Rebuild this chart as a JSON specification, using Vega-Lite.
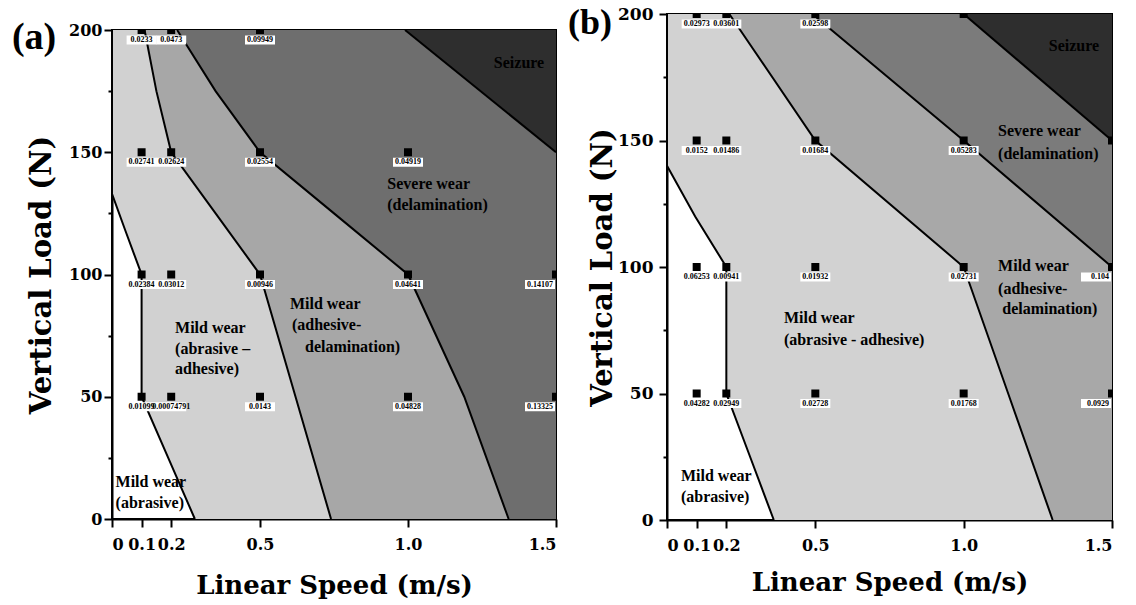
{
  "$schema": "https://vega.github.io/schema/vega-lite/v6.json",
  "padding": {"left": 10, "top": 4, "right": 0, "bottom": 0},
  "background": "white",
  "spacing": 5,
  "config": {
    "view": {"stroke": "black", "strokeWidth": 2},
    "axis": {
      "grid": false, "domainColor": "black", "domainWidth": 2,
      "tickColor": "black", "tickWidth": 2, "tickSize": 8,
      "labelFont": "DejaVu Serif", "labelFontWeight": "bold", "labelFontSize": 16, "labelColor": "black",
      "titleFont": "DejaVu Serif", "titleFontWeight": "bold", "titleColor": "black"
    }
  },
  "datasets": {
    "bounds": [
      {"panel": "a", "b": 1, "load": 0, "speed": 0.28},
      {"panel": "a", "b": 1, "load": 25, "speed": 0.19},
      {"panel": "a", "b": 1, "load": 50, "speed": 0.1},
      {"panel": "a", "b": 1, "load": 100, "speed": 0.1},
      {"panel": "a", "b": 1, "load": 118, "speed": 0.045},
      {"panel": "a", "b": 1, "load": 133, "speed": 0},
      {"panel": "a", "b": 1, "load": 200, "speed": 0},
      {"panel": "a", "b": 2, "load": 0, "speed": 0.74},
      {"panel": "a", "b": 2, "load": 50, "speed": 0.62},
      {"panel": "a", "b": 2, "load": 100, "speed": 0.5},
      {"panel": "a", "b": 2, "load": 125, "speed": 0.35},
      {"panel": "a", "b": 2, "load": 150, "speed": 0.2},
      {"panel": "a", "b": 2, "load": 175, "speed": 0.15},
      {"panel": "a", "b": 2, "load": 200, "speed": 0.11},
      {"panel": "a", "b": 3, "load": 0, "speed": 1.34},
      {"panel": "a", "b": 3, "load": 50, "speed": 1.19},
      {"panel": "a", "b": 3, "load": 100, "speed": 1.0},
      {"panel": "a", "b": 3, "load": 125, "speed": 0.75},
      {"panel": "a", "b": 3, "load": 150, "speed": 0.5},
      {"panel": "a", "b": 3, "load": 175, "speed": 0.35},
      {"panel": "a", "b": 3, "load": 200, "speed": 0.22},
      {"panel": "a", "b": 4, "load": 150, "speed": 1.5},
      {"panel": "a", "b": 4, "load": 200, "speed": 0.99},
      {"panel": "b", "b": 1, "load": 0, "speed": 0.36},
      {"panel": "b", "b": 1, "load": 25, "speed": 0.28},
      {"panel": "b", "b": 1, "load": 50, "speed": 0.2},
      {"panel": "b", "b": 1, "load": 100, "speed": 0.2},
      {"panel": "b", "b": 1, "load": 120, "speed": 0.095},
      {"panel": "b", "b": 1, "load": 140, "speed": 0},
      {"panel": "b", "b": 1, "load": 200, "speed": 0},
      {"panel": "b", "b": 2, "load": 0, "speed": 1.3},
      {"panel": "b", "b": 2, "load": 50, "speed": 1.15},
      {"panel": "b", "b": 2, "load": 100, "speed": 1.0},
      {"panel": "b", "b": 2, "load": 150, "speed": 0.5},
      {"panel": "b", "b": 2, "load": 200, "speed": 0.21},
      {"panel": "b", "b": 3, "load": 100, "speed": 1.5},
      {"panel": "b", "b": 3, "load": 150, "speed": 1.0},
      {"panel": "b", "b": 3, "load": 200, "speed": 0.49},
      {"panel": "b", "b": 4, "load": 150, "speed": 1.5},
      {"panel": "b", "b": 4, "load": 200, "speed": 1.0}
    ],
    "points": [
      {"panel": "a", "speed": 0.1, "load": 200, "wr": "0.0233"},
      {"panel": "a", "speed": 0.2, "load": 200, "wr": "0.0473"},
      {"panel": "a", "speed": 0.5, "load": 200, "wr": "0.09949"},
      {"panel": "a", "speed": 0.1, "load": 150, "wr": "0.02741"},
      {"panel": "a", "speed": 0.2, "load": 150, "wr": "0.02624"},
      {"panel": "a", "speed": 0.5, "load": 150, "wr": "0.02554"},
      {"panel": "a", "speed": 1.0, "load": 150, "wr": "0.04919"},
      {"panel": "a", "speed": 0.1, "load": 100, "wr": "0.02384"},
      {"panel": "a", "speed": 0.2, "load": 100, "wr": "0.03012"},
      {"panel": "a", "speed": 0.5, "load": 100, "wr": "0.00946"},
      {"panel": "a", "speed": 1.0, "load": 100, "wr": "0.04641"},
      {"panel": "a", "speed": 1.5, "load": 100, "wr": "0.14107"},
      {"panel": "a", "speed": 0.1, "load": 50, "wr": "0.01099"},
      {"panel": "a", "speed": 0.2, "load": 50, "wr": "0.00074791"},
      {"panel": "a", "speed": 0.5, "load": 50, "wr": "0.0143"},
      {"panel": "a", "speed": 1.0, "load": 50, "wr": "0.04828"},
      {"panel": "a", "speed": 1.5, "load": 50, "wr": "0.13325"},
      {"panel": "b", "speed": 0.1, "load": 200, "wr": "0.02973"},
      {"panel": "b", "speed": 0.2, "load": 200, "wr": "0.03601"},
      {"panel": "b", "speed": 0.5, "load": 200, "wr": "0.02598"},
      {"panel": "b", "speed": 1.0, "load": 200, "wr": ""},
      {"panel": "b", "speed": 0.1, "load": 150, "wr": "0.0152"},
      {"panel": "b", "speed": 0.2, "load": 150, "wr": "0.01486"},
      {"panel": "b", "speed": 0.5, "load": 150, "wr": "0.01684"},
      {"panel": "b", "speed": 1.0, "load": 150, "wr": "0.05283"},
      {"panel": "b", "speed": 1.5, "load": 150, "wr": ""},
      {"panel": "b", "speed": 0.1, "load": 100, "wr": "0.06253"},
      {"panel": "b", "speed": 0.2, "load": 100, "wr": "0.00941"},
      {"panel": "b", "speed": 0.5, "load": 100, "wr": "0.01932"},
      {"panel": "b", "speed": 1.0, "load": 100, "wr": "0.02731"},
      {"panel": "b", "speed": 1.5, "load": 100, "wr": "0.104"},
      {"panel": "b", "speed": 0.1, "load": 50, "wr": "0.04282"},
      {"panel": "b", "speed": 0.2, "load": 50, "wr": "0.02949"},
      {"panel": "b", "speed": 0.5, "load": 50, "wr": "0.02728"},
      {"panel": "b", "speed": 1.0, "load": 50, "wr": "0.01768"},
      {"panel": "b", "speed": 1.5, "load": 50, "wr": "0.0929"}
    ],
    "regions": [
      {"panel": "a", "speed": 0.012, "load": 15, "text": "Mild wear"},
      {"panel": "a", "speed": 0.012, "load": 6.5, "text": "(abrasive)"},
      {"panel": "a", "speed": 0.213, "load": 78, "text": "Mild wear"},
      {"panel": "a", "speed": 0.213, "load": 69.5, "text": "(abrasive –"},
      {"panel": "a", "speed": 0.213, "load": 61.3, "text": "adhesive)"},
      {"panel": "a", "speed": 0.601, "load": 87.9, "text": "Mild wear"},
      {"panel": "a", "speed": 0.608, "load": 79.3, "text": "(adhesive-"},
      {"panel": "a", "speed": 0.652, "load": 70.3, "text": "delamination)"},
      {"panel": "a", "speed": 0.93, "load": 137, "text": "Severe wear"},
      {"panel": "a", "speed": 0.93, "load": 128.4, "text": "(delamination)"},
      {"panel": "a", "speed": 1.29, "load": 186.5, "text": "Seizure"},
      {"panel": "b", "speed": 0.047, "load": 17.4, "text": "Mild wear"},
      {"panel": "b", "speed": 0.047, "load": 9.1, "text": "(abrasive)"},
      {"panel": "b", "speed": 0.394, "load": 79.8, "text": "Mild wear"},
      {"panel": "b", "speed": 0.394, "load": 71.1, "text": "(abrasive - adhesive)"},
      {"panel": "b", "speed": 1.116, "load": 100.4, "text": "Mild wear"},
      {"panel": "b", "speed": 1.116, "load": 91.3, "text": "(adhesive-"},
      {"panel": "b", "speed": 1.13, "load": 83.4, "text": "delamination)"},
      {"panel": "b", "speed": 1.116, "load": 153.8, "text": "Severe wear"},
      {"panel": "b", "speed": 1.116, "load": 144.7, "text": "(delamination)"},
      {"panel": "b", "speed": 1.287, "load": 187.5, "text": "Seizure"}
    ],
    "tags": [
      {"panel": "a", "speed": -0.338, "load": 196.7, "text": "(a)"},
      {"panel": "b", "speed": -0.334, "load": 196.4, "text": "(b)"}
    ]
  },
  "hconcat": [
    {
      "spacing": 3,
      "vconcat": [
        {
          "width": 444,
          "height": 1,
          "view": {"stroke": null},
          "data": {"values": []},
          "mark": {"type": "point", "opacity": 0}
        },
        {
          "width": 444,
          "height": 489,
          "layer": [
            {
              "data": {"name": "bounds"},
              "transform": [{"filter": "datum.panel == 'a' && datum.b == 1"}],
              "mark": {"type": "area", "orient": "horizontal", "color": "#d1d1d1", "opacity": 1},
              "encoding": {
                "y": {"field": "load", "type": "quantitative", "scale": {"domain": [0, 200], "nice": false},
                  "axis": {"title": "Vertical Load (N)", "titleFontSize": 29, "titlePadding": 12, "labelPadding": 2,
                    "values": [0, 25, 50, 75, 100, 125, 150, 175, 200],
                    "labelExpr": "datum.value % 50 == 0 ? datum.label : ''",
                    "tickSize": {"condition": {"test": "datum.value % 50 != 0", "value": 4}, "value": 8}}},
                "x": {"field": "speed", "type": "quantitative", "scale": {"domain": [0, 1.5], "nice": false},
                  "axis": {"title": "Linear Speed (m/s)", "titleFontSize": 26, "titlePadding": 20, "labelPadding": 9,
                    "values": [0, 0.1, 0.2, 0.5, 1.0, 1.5],
                    "labelExpr": "datum.value == 0 ? '0' : format(datum.value, '.1f')"}},
                "x2": {"datum": 1.5}
              }
            },
            {
              "data": {"name": "bounds"},
              "transform": [{"filter": "datum.panel == 'a' && datum.b == 2"}],
              "mark": {"type": "area", "orient": "horizontal", "color": "#a7a7a7", "opacity": 1},
              "encoding": {"y": {"field": "load", "type": "quantitative"}, "x": {"field": "speed", "type": "quantitative"}, "x2": {"datum": 1.5}}
            },
            {
              "data": {"name": "bounds"},
              "transform": [{"filter": "datum.panel == 'a' && datum.b == 3"}],
              "mark": {"type": "area", "orient": "horizontal", "color": "#6e6e6e", "opacity": 1},
              "encoding": {"y": {"field": "load", "type": "quantitative"}, "x": {"field": "speed", "type": "quantitative"}, "x2": {"datum": 1.5}}
            },
            {
              "data": {"name": "bounds"},
              "transform": [{"filter": "datum.panel == 'a' && datum.b == 4"}],
              "mark": {"type": "area", "orient": "horizontal", "color": "#2e2e2e", "opacity": 1},
              "encoding": {"y": {"field": "load", "type": "quantitative"}, "x": {"field": "speed", "type": "quantitative"}, "x2": {"datum": 1.5}}
            },
            {
              "data": {"name": "bounds"},
              "transform": [{"filter": "datum.panel == 'a'"}],
              "mark": {"type": "line", "color": "black", "strokeWidth": 2},
              "encoding": {"y": {"field": "load", "type": "quantitative"}, "x": {"field": "speed", "type": "quantitative"}, "detail": {"field": "b"}, "order": {"field": "load", "type": "quantitative"}}
            },
            {
              "data": {"name": "points"},
              "transform": [{"filter": "datum.panel == 'a'"}],
              "mark": {"type": "point", "shape": "square", "filled": true, "color": "black", "size": 64, "opacity": 1, "clip": true},
              "encoding": {"y": {"field": "load", "type": "quantitative"}, "x": {"field": "speed", "type": "quantitative"}}
            },
            {
              "data": {"name": "points"},
              "transform": [{"filter": "datum.panel == 'a' && datum.wr != '' && datum.speed < 1.5"}],
              "mark": {"type": "point", "shape": "M-1,-0.3H1V0.3H-1Z", "filled": true, "color": "white", "size": 900, "opacity": 1, "yOffset": 10},
              "encoding": {"y": {"field": "load", "type": "quantitative"}, "x": {"field": "speed", "type": "quantitative"}}
            },
            {
              "data": {"name": "points"},
              "transform": [{"filter": "datum.panel == 'a' && datum.wr != '' && datum.speed < 1.5"}],
              "mark": {"type": "text", "font": "Liberation Serif", "fontWeight": "bold", "fontSize": 8, "color": "black", "yOffset": 10, "baseline": "middle", "align": "center"},
              "encoding": {"y": {"field": "load", "type": "quantitative"}, "x": {"field": "speed", "type": "quantitative"}, "text": {"field": "wr"}}
            },
            {
              "data": {"name": "points"},
              "transform": [{"filter": "datum.panel == 'a' && datum.wr != '' && datum.speed >= 1.5"}],
              "mark": {"type": "point", "shape": "M-1,-0.3H1V0.3H-1Z", "filled": true, "color": "white", "size": 900, "opacity": 1, "yOffset": 10, "xOffset": -16},
              "encoding": {"y": {"field": "load", "type": "quantitative"}, "x": {"field": "speed", "type": "quantitative"}}
            },
            {
              "data": {"name": "points"},
              "transform": [{"filter": "datum.panel == 'a' && datum.wr != '' && datum.speed >= 1.5"}],
              "mark": {"type": "text", "font": "Liberation Serif", "fontWeight": "bold", "fontSize": 8, "color": "black", "yOffset": 10, "dx": -3, "baseline": "middle", "align": "right"},
              "encoding": {"y": {"field": "load", "type": "quantitative"}, "x": {"field": "speed", "type": "quantitative"}, "text": {"field": "wr"}}
            },
            {
              "data": {"name": "regions"},
              "transform": [{"filter": "datum.panel == 'a'"}],
              "mark": {"type": "text", "font": "Liberation Serif", "fontWeight": "bold", "fontSize": 16, "color": "black", "baseline": "middle", "align": "left"},
              "encoding": {"y": {"field": "load", "type": "quantitative"}, "x": {"field": "speed", "type": "quantitative"}, "text": {"field": "text"}}
            },
            {
              "data": {"name": "tags"},
              "transform": [{"filter": "datum.panel == 'a'"}],
              "mark": {"type": "text", "font": "Liberation Serif", "fontWeight": "bold", "fontSize": 38, "color": "black", "baseline": "middle", "align": "left"},
              "encoding": {"y": {"field": "load", "type": "quantitative"}, "x": {"field": "speed", "type": "quantitative"}, "text": {"field": "text"}}
            }
          ]
        }
      ]
    },
    {
      "width": 445,
      "height": 506,
      "layer": [
        {
          "data": {"name": "bounds"},
          "transform": [{"filter": "datum.panel == 'b' && datum.b == 1"}],
          "mark": {"type": "area", "orient": "horizontal", "color": "#d2d2d2", "opacity": 1},
          "encoding": {
            "y": {"field": "load", "type": "quantitative", "scale": {"domain": [0, 200], "nice": false},
              "axis": {"title": "Vertical Load (N)", "titleFontSize": 29, "titlePadding": 0, "labelPadding": 6, "labelFontSize": 17,
                "values": [0, 25, 50, 75, 100, 125, 150, 175, 200],
                "labelExpr": "datum.value % 50 == 0 ? datum.label : ''",
                "tickSize": {"condition": {"test": "datum.value % 50 != 0", "value": 4}, "value": 8}}},
            "x": {"field": "speed", "type": "quantitative", "scale": {"domain": [0, 1.5], "nice": false},
              "axis": {"title": "Linear Speed (m/s)", "titleFontSize": 26, "titlePadding": 16, "labelPadding": 9,
                "values": [0, 0.1, 0.2, 0.5, 1.0, 1.5],
                "labelExpr": "datum.value == 0 ? '0' : format(datum.value, '.1f')"}},
            "x2": {"datum": 1.5}
          }
        },
        {
          "data": {"name": "bounds"},
          "transform": [{"filter": "datum.panel == 'b' && datum.b == 2"}],
          "mark": {"type": "area", "orient": "horizontal", "color": "#a8a8a8", "opacity": 1},
          "encoding": {"y": {"field": "load", "type": "quantitative"}, "x": {"field": "speed", "type": "quantitative"}, "x2": {"datum": 1.5}}
        },
        {
          "data": {"name": "bounds"},
          "transform": [{"filter": "datum.panel == 'b' && datum.b == 3"}],
          "mark": {"type": "area", "orient": "horizontal", "color": "#7b7b7b", "opacity": 1},
          "encoding": {"y": {"field": "load", "type": "quantitative"}, "x": {"field": "speed", "type": "quantitative"}, "x2": {"datum": 1.5}}
        },
        {
          "data": {"name": "bounds"},
          "transform": [{"filter": "datum.panel == 'b' && datum.b == 4"}],
          "mark": {"type": "area", "orient": "horizontal", "color": "#2e2e2e", "opacity": 1},
          "encoding": {"y": {"field": "load", "type": "quantitative"}, "x": {"field": "speed", "type": "quantitative"}, "x2": {"datum": 1.5}}
        },
        {
          "data": {"name": "bounds"},
          "transform": [{"filter": "datum.panel == 'b'"}],
          "mark": {"type": "line", "color": "black", "strokeWidth": 2},
          "encoding": {"y": {"field": "load", "type": "quantitative"}, "x": {"field": "speed", "type": "quantitative"}, "detail": {"field": "b"}, "order": {"field": "load", "type": "quantitative"}}
        },
        {
          "data": {"name": "points"},
          "transform": [{"filter": "datum.panel == 'b'"}],
          "mark": {"type": "point", "shape": "square", "filled": true, "color": "black", "size": 64, "opacity": 1, "clip": true},
          "encoding": {"y": {"field": "load", "type": "quantitative"}, "x": {"field": "speed", "type": "quantitative"}}
        },
        {
          "data": {"name": "points"},
          "transform": [{"filter": "datum.panel == 'b' && datum.wr != '' && datum.speed < 1.5"}],
          "mark": {"type": "point", "shape": "M-1,-0.3H1V0.3H-1Z", "filled": true, "color": "white", "size": 900, "opacity": 1, "yOffset": 10},
          "encoding": {"y": {"field": "load", "type": "quantitative"}, "x": {"field": "speed", "type": "quantitative"}}
        },
        {
          "data": {"name": "points"},
          "transform": [{"filter": "datum.panel == 'b' && datum.wr != '' && datum.speed < 1.5"}],
          "mark": {"type": "text", "font": "Liberation Serif", "fontWeight": "bold", "fontSize": 8, "color": "black", "yOffset": 10, "baseline": "middle", "align": "center"},
          "encoding": {"y": {"field": "load", "type": "quantitative"}, "x": {"field": "speed", "type": "quantitative"}, "text": {"field": "wr"}}
        },
        {
          "data": {"name": "points"},
          "transform": [{"filter": "datum.panel == 'b' && datum.wr != '' && datum.speed >= 1.5"}],
          "mark": {"type": "point", "shape": "M-1,-0.3H1V0.3H-1Z", "filled": true, "color": "white", "size": 900, "opacity": 1, "yOffset": 10, "xOffset": -16},
          "encoding": {"y": {"field": "load", "type": "quantitative"}, "x": {"field": "speed", "type": "quantitative"}}
        },
        {
          "data": {"name": "points"},
          "transform": [{"filter": "datum.panel == 'b' && datum.wr != '' && datum.speed >= 1.5"}],
          "mark": {"type": "text", "font": "Liberation Serif", "fontWeight": "bold", "fontSize": 8, "color": "black", "yOffset": 10, "dx": -3, "baseline": "middle", "align": "right"},
          "encoding": {"y": {"field": "load", "type": "quantitative"}, "x": {"field": "speed", "type": "quantitative"}, "text": {"field": "wr"}}
        },
        {
          "data": {"name": "regions"},
          "transform": [{"filter": "datum.panel == 'b'"}],
          "mark": {"type": "text", "font": "Liberation Serif", "fontWeight": "bold", "fontSize": 16, "color": "black", "baseline": "middle", "align": "left"},
          "encoding": {"y": {"field": "load", "type": "quantitative"}, "x": {"field": "speed", "type": "quantitative"}, "text": {"field": "text"}}
        },
        {
          "data": {"name": "tags"},
          "transform": [{"filter": "datum.panel == 'b'"}],
          "mark": {"type": "text", "font": "Liberation Serif", "fontWeight": "bold", "fontSize": 36, "color": "black", "baseline": "middle", "align": "left"},
          "encoding": {"y": {"field": "load", "type": "quantitative"}, "x": {"field": "speed", "type": "quantitative"}, "text": {"field": "text"}}
        }
      ]
    }
  ]
}
